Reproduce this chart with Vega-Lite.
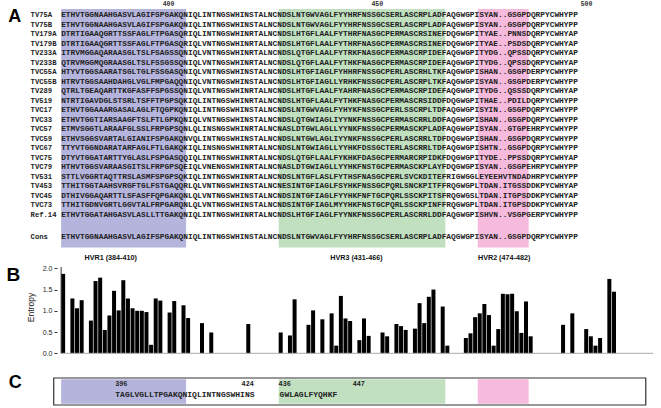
{
  "$schema": "https://vega.github.io/schema/vega-lite/v6.json",
  "width": 661,
  "height": 408,
  "autosize": {"type": "none"},
  "padding": 0,
  "background": "white",
  "config": {"view": {"stroke": null}},
  "datasets": {
    "alignment": [
      {"row": 0, "name": "TV75A", "seq": "ETHVTGGNAAHGASVLAGIFSPGAKQNIQLINTNGSWHINSTALNCNDSLNTGWVAGLFYYHRFNSSGCSERLASCRPLADFAQGWGPISYAN..GSGPDQRPYCWHYPP"},
      {"row": 1, "name": "TV75B", "seq": "ETHVTGGNAAHGASVLAGIFSPGAKQNIQLINTNGSWHINSTALNCNDSLNTGWVAGLFYYHRFNSSGCSERLASCRPLADFAQGWGPISYAN..GSGPDQRPYCWHYPP"},
      {"row": 2, "name": "TV179A", "seq": "DTRTIGAAQGRTTSSFAGLFTPGASQRIQLINTNGSWHINRTALNCNDSLHTGFLAALFYTHRFNASGCPERMASCRSINEFDQGWGPITYAE..PNNSDQRPYCWHYAP"},
      {"row": 3, "name": "TV179B", "seq": "DTRTIGAAQGRTTSSFAGLFTPGASQRIQLVNTNGSWHINRTALNCNDSLHTGFLAALFYTHRFNASGCPERMASCRSINEFDQGWGPITYAE..PSDSDQRPYCWHYAP"},
      {"row": 4, "name": "TV233A", "seq": "ITRVMGGAQARAASGLTSLFSAGSSQNIQLVNTNGSWHINRTALNCNDSLQTGFLAALFYTRKFNASGCPERMASCRPIDEFAQGWGPITYDG..QPSSDQRPYCWHYAP"},
      {"row": 5, "name": "TV233B", "seq": "QTRVMGGMQGRAASGLTSLFSSGSSQNIQLVNTNGSWHINRTALNCNDSLQTGFLAALFYTHKFNASGCPERMASCRPIDEFAQGWGPITYDG..QPSSDQRPYCWHYAP"},
      {"row": 6, "name": "TVC55A", "seq": "HTYVTGGSAARATSGLTGLFSSGASQNIQLVNTNGSWHINSTALNCNDSLHTGFIAGLFYHHRFNSSGCPERLASCRHLTKFAQGWGPISHAN..GSGPDERPYCWHYPP"},
      {"row": 7, "name": "TVC55B", "seq": "HTRVTGGSAAHDAHGLVGLFMPGAQQNIQLVNTNGSWHINSTALNCNDSLHTGFIAGLLYRHKFNSSGCPERLASCRPLTKFAQGWGPISYAN..GSGPDERPYCWHYPP"},
      {"row": 8, "name": "TV289", "seq": "QTRLTGEAQARTTKGFASFFSPGSSQNIQLVNTNGSWHINRTALNCNDSLHTGFLAALFYAHRFNASGCPERMASCRPIDEFAQGWGPITYDG..QSSSDQRPYCWHYAP"},
      {"row": 9, "name": "TV519", "seq": "NTRTIGAVDGLSTSRLTSFFTPGPSQKIQLINTNGSWHINRTALNCNDSLHTGFLAALFYTHKFNASGCPERMASCRSIDDFDQGWGPITHAE..PDILDQRPYCWHYPP"},
      {"row": 10, "name": "TVC17", "seq": "ETHVTGGAAARGASALAGLFTQGPKQNIQLINTNGSWHINSTALNCNDSLNTGWVAGLFYHYKFNSSGCPERLSSCRPLTDFAQGWGPISYIN..GSGPDQRPYCWHYPP"},
      {"row": 11, "name": "TVC33", "seq": "ETHVTGGTIARSAAGFTSLFTLGPKQNIQLVNTNGSWHINSTALNCNDSLQTGWIAGLIYYNKFNSSGCPERMASCRRLDDFAQGWGPISHAN..GSGPDQRPYCWHYPP"},
      {"row": 12, "name": "TVC57", "seq": "ETMVSGGTLARAAFGLSSLFRPGPSQNLQLINSNGSWHINRTALNCNASLDTGWLAGLLYYNKFNSSGCPERMASCKPLADFAQGWGPISYAN..GTGPEHRPYCWHYPP"},
      {"row": 13, "name": "TVC59", "seq": "ETHVSGGSVARTALGIANIFSPGAKQNVQLINTNGSWHINSTALNCNDSLNTGWLAGLIYYNKFNSSGCPERLASCRRLTDFDQGWGPISHAN..GSGPDQRPYCWHYPP"},
      {"row": 14, "name": "TVC67", "seq": "TTYVTGGNDARATARFAGLFTLGAKQKIQLINSNGSWHINRTALNCNDSLNTGWIAGLLYYHKFDSSGCTERLASCRRLTDFAQGWGPISHTN..GSGPDQRPYCWHYPP"},
      {"row": 15, "name": "TVC75", "seq": "DTYVTGGATARTTYGLASLFSPGASQQIQLINTNGSWHINRTALNCNDSLQTGFLAALFYKHKFDASGCPERMARCRPIDKFDQGWGPITYDE..PPSSDQRPYCWHYAP"},
      {"row": 16, "name": "TVC79", "seq": "HTHVTGGSVARAASGITSLFRPGPSQEIQLVNENGSWHINRTALNCNASLDTGWIAGLLYYHKFNSTGCPERMASCKPLAYFDQGWGPISYAN..GSGPEHRPYCWHYPP"},
      {"row": 17, "name": "TV531", "seq": "STTLVGGRTAQTTRSLASMFSPGPSQKIQLINTNGSWHINRTALNCNDSLNTGFLASLFYTHSFNASGCPERLSVCKDITEFRIGWGGLEYEEHVTNDADHRPYCWHYPP"},
      {"row": 18, "name": "TV453", "seq": "TTHITGGTAAHSVRGFTGLFSTGAQQRLQLVNTNGSWHINSTALNCNESINTGFIAGLFSYHKFNSSGCPQRLSNCKPITFFRQGWGPLTDAN.ITGSSDDKPYCWHYAP"},
      {"row": 19, "name": "TVC45", "seq": "DTHIVGGAQARTTLSFASFFQPGAKQNLQLVNTNGSWHINSTALNCNDSINTGFIAGLFYYHKFNFTGCPQRLSSCKPITSFRQGWGSLTDAN.ITGPSDDKPYCWHYAP"},
      {"row": 20, "name": "TVC73", "seq": "TTHITGDNVGRTLGGVTALFRPGARQNLQLVNTNGSWHINSTALNCNDSINTGFIAGLMYYHKFNSTGCPQRLSSCKPINFFRQGWGPLTDAN.ITGPSDDKPYCWHYAP"},
      {"row": 21, "name": "Ref.14", "seq": "ETHVTGGATAHGASVLASLLTTGAKQNIQLINTNGSWHINRTALNCNDSLHTGFIAGLFYYNKFNSSGCPERLASCRRLDDFAQGWGPISHVN..VSGPGERPYCWHYPP"},
      {"row": 23.3, "name": "Cons", "seq": "ETHVTGGNAAHGASVLAGIFSPGAKQNIQLINTNGSWHINSTALNCNDSLNTGWVAGLFYYHRFNSSGCSERLASCRPLADFAQGWGPISYAN..GSGPDQRPYCWHYPP"}
    ],
    "regions": [
      {"region": "HVR1", "first": 0, "last": 27},
      {"region": "HVR3", "first": 47, "last": 83},
      {"region": "HVR2", "first": 90, "last": 101}
    ],
    "ruler": [
      {"label": "400", "col": 23.2},
      {"label": "450", "col": 68.3},
      {"label": "500", "col": 113.5}
    ],
    "entropy": [
      {"col": 0, "entropy": 1.87}, {"col": 2, "entropy": 1.29}, {"col": 3, "entropy": 1.06}, {"col": 4, "entropy": 1.25},
      {"col": 6, "entropy": 0.77}, {"col": 7, "entropy": 1.70}, {"col": 8, "entropy": 1.78}, {"col": 9, "entropy": 0.55},
      {"col": 10, "entropy": 0.89}, {"col": 11, "entropy": 1.47}, {"col": 12, "entropy": 1.01}, {"col": 13, "entropy": 1.72},
      {"col": 14, "entropy": 1.29}, {"col": 15, "entropy": 1.06}, {"col": 16, "entropy": 1.00}, {"col": 17, "entropy": 1.00},
      {"col": 18, "entropy": 0.97}, {"col": 19, "entropy": 0.20}, {"col": 20, "entropy": 1.29}, {"col": 21, "entropy": 1.24},
      {"col": 23, "entropy": 0.96}, {"col": 24, "entropy": 1.23}, {"col": 26, "entropy": 1.13}, {"col": 27, "entropy": 0.83},
      {"col": 30, "entropy": 0.71}, {"col": 32, "entropy": 0.49}, {"col": 40, "entropy": 0.69}, {"col": 47, "entropy": 0.49},
      {"col": 49, "entropy": 0.42}, {"col": 50, "entropy": 1.27}, {"col": 53, "entropy": 0.67}, {"col": 54, "entropy": 1.01},
      {"col": 56, "entropy": 0.80}, {"col": 58, "entropy": 0.94}, {"col": 59, "entropy": 0.18}, {"col": 60, "entropy": 1.35},
      {"col": 61, "entropy": 0.82}, {"col": 62, "entropy": 0.76}, {"col": 64, "entropy": 0.31}, {"col": 65, "entropy": 0.82},
      {"col": 66, "entropy": 0.41}, {"col": 69, "entropy": 0.49}, {"col": 70, "entropy": 0.40}, {"col": 72, "entropy": 0.69},
      {"col": 73, "entropy": 0.64}, {"col": 74, "entropy": 0.55}, {"col": 76, "entropy": 0.58}, {"col": 77, "entropy": 1.18},
      {"col": 78, "entropy": 0.71}, {"col": 79, "entropy": 1.33}, {"col": 80, "entropy": 1.50}, {"col": 82, "entropy": 1.10},
      {"col": 83, "entropy": 0.18}, {"col": 87, "entropy": 0.36}, {"col": 88, "entropy": 0.47}, {"col": 89, "entropy": 0.85},
      {"col": 90, "entropy": 0.94}, {"col": 91, "entropy": 1.16}, {"col": 92, "entropy": 0.90}, {"col": 93, "entropy": 0.18},
      {"col": 94, "entropy": 0.57}, {"col": 95, "entropy": 1.40}, {"col": 96, "entropy": 1.39}, {"col": 97, "entropy": 1.40},
      {"col": 98, "entropy": 0.99}, {"col": 99, "entropy": 0.48}, {"col": 100, "entropy": 1.22}, {"col": 101, "entropy": 0.40},
      {"col": 108, "entropy": 0.67}, {"col": 110, "entropy": 0.94}, {"col": 113, "entropy": 0.57}, {"col": 114, "entropy": 0.40},
      {"col": 115, "entropy": 0.18}, {"col": 116, "entropy": 0.36}, {"col": 118, "entropy": 1.75}, {"col": 119, "entropy": 1.45}
    ],
    "hvrLabels": [
      {"label": "HVR1 (384-410)", "at": 10.7},
      {"label": "HVR3 (431-466)", "at": 63.8},
      {"label": "HVR2 (474-482)", "at": 95.7}
    ],
    "epitopes": [
      {"epitope": "E1", "seq": "TAGLVGLLTPGAKQNIQLINTNGSWHINS", "start": 11.7},
      {"epitope": "E2", "seq": "GWLAGLFYQHKF", "start": 47.2}
    ],
    "epitopeEnds": [
      {"label": "396", "at": 13.0},
      {"label": "424", "at": 40.3},
      {"label": "436", "at": 48.3},
      {"label": "447", "at": 64.3}
    ]
  },
  "layer": [
    {
      "layer": [
        {
          "data": {"name": "regions"},
          "mark": {"type": "rect"},
          "encoding": {
            "x": {"field": "first", "type": "quantitative", "scale": {"domain": [-12.1277, 128.5106], "nice": false, "zero": false}, "axis": null},
            "x2": {"field": "last"},
            "y": {"datum": -0.63, "type": "quantitative", "scale": {"domain": [-1.575, 41.265], "reverse": true, "nice": false, "zero": false}, "axis": null},
            "y2": {"datum": 24.4},
            "color": {"field": "region", "type": "nominal", "scale": {"domain": ["HVR1", "HVR3", "HVR2"], "range": ["#b4b4dc", "#c0e0c0", "#f6badd"]}, "legend": null}
          }
        },
        {
          "data": {"name": "ruler"},
          "mark": {"type": "text", "font": "Liberation Mono", "fontSize": 6.5, "fontWeight": "bold", "align": "center", "baseline": "middle", "color": "#333"},
          "encoding": {
            "x": {"field": "col", "type": "quantitative", "scale": {"domain": [-12.1277, 128.5106], "nice": false, "zero": false}, "axis": null},
            "y": {"datum": -1.15, "type": "quantitative", "scale": {"domain": [-1.575, 41.265], "reverse": true, "nice": false, "zero": false}, "axis": null},
            "text": {"field": "label"}
          }
        },
        {
          "data": {"name": "alignment"},
          "mark": {"type": "text", "font": "Liberation Mono", "fontSize": 7.83, "fontWeight": "bold", "align": "left", "baseline": "middle", "color": "#222"},
          "encoding": {
            "x": {"datum": 0, "type": "quantitative", "scale": {"domain": [-12.1277, 128.5106], "nice": false, "zero": false}, "axis": null},
            "y": {"field": "row", "type": "quantitative", "scale": {"domain": [-1.575, 41.265], "reverse": true, "nice": false, "zero": false}, "axis": null},
            "text": {"field": "seq"}
          }
        },
        {
          "data": {"name": "alignment"},
          "mark": {"type": "text", "font": "Liberation Mono", "fontSize": 7.2, "fontWeight": "bold", "align": "left", "baseline": "middle", "color": "#222"},
          "encoding": {
            "x": {"datum": -6.6, "type": "quantitative", "scale": {"domain": [-12.1277, 128.5106], "nice": false, "zero": false}, "axis": null},
            "y": {"field": "row", "type": "quantitative", "scale": {"domain": [-1.575, 41.265], "reverse": true, "nice": false, "zero": false}, "axis": null},
            "text": {"field": "name"}
          }
        },
        {
          "data": {"values": [{"panel": "A"}]},
          "mark": {"type": "text", "font": "Liberation Sans", "fontSize": 18, "fontWeight": "bold", "align": "left", "baseline": "middle", "color": "#000"},
          "encoding": {
            "x": {"datum": -11.45, "type": "quantitative", "scale": {"domain": [-12.1277, 128.5106], "nice": false, "zero": false}, "axis": null},
            "y": {"datum": 0.2, "type": "quantitative", "scale": {"domain": [-1.575, 41.265], "reverse": true, "nice": false, "zero": false}, "axis": null},
            "text": {"field": "panel"}
          }
        }
      ]
    },
    {
      "layer": [
        {
          "data": {"name": "entropy"},
          "mark": {"type": "bar", "width": 4, "xOffset": 2, "color": "#000"},
          "encoding": {
            "x": {"field": "col", "type": "quantitative", "scale": {"domain": [-12.1277, 128.5106], "nice": false, "zero": false}, "axis": null},
            "y": {"field": "entropy", "type": "quantitative", "scale": {"domain": [-1.287, 8.313], "nice": false, "zero": false},
              "axis": {"values": [0, 0.5, 1, 1.5, 2], "format": ".1f", "offset": -57, "domain": false, "grid": false, "tickSize": 3, "tickColor": "#333",
                "labelFont": "Liberation Sans", "labelFontSize": 7, "labelColor": "#222", "labelPadding": 2,
                "title": "Entropy", "titleFont": "Liberation Sans", "titleFontSize": 8.5, "titleFontWeight": "normal", "titleColor": "#222", "titleX": -21.5, "titleY": 307}},
            "y2": {"datum": 0}
          }
        },
        {
          "data": {"values": [{}]},
          "mark": {"type": "rule", "color": "#aaa", "strokeWidth": 1},
          "encoding": {
            "x": {"datum": 0, "type": "quantitative", "scale": {"domain": [-12.1277, 128.5106], "nice": false, "zero": false}, "axis": null},
            "x2": {"datum": 127.9},
            "y": {"datum": 0, "type": "quantitative", "scale": {"domain": [-1.287, 8.313], "nice": false, "zero": false}}
          }
        },
        {
          "data": {"values": [{}]},
          "mark": {"type": "rule", "color": "#333", "strokeWidth": 1},
          "encoding": {
            "x": {"datum": 0, "type": "quantitative", "scale": {"domain": [-12.1277, 128.5106], "nice": false, "zero": false}, "axis": null},
            "y": {"datum": 0, "type": "quantitative", "scale": {"domain": [-1.287, 8.313], "nice": false, "zero": false}},
            "y2": {"datum": 2.03}
          }
        },
        {
          "data": {"name": "hvrLabels"},
          "mark": {"type": "text", "font": "Liberation Sans", "fontSize": 7.2, "fontWeight": "bold", "align": "center", "baseline": "middle", "color": "#111"},
          "encoding": {
            "x": {"field": "at", "type": "quantitative", "scale": {"domain": [-12.1277, 128.5106], "nice": false, "zero": false}, "axis": null},
            "y": {"datum": 2.235, "type": "quantitative", "scale": {"domain": [-1.287, 8.313], "nice": false, "zero": false}},
            "text": {"field": "label"}
          }
        },
        {
          "data": {"values": [{"panel": "B"}]},
          "mark": {"type": "text", "font": "Liberation Sans", "fontSize": 19, "fontWeight": "bold", "align": "left", "baseline": "middle", "color": "#000"},
          "encoding": {
            "x": {"datum": -11.8, "type": "quantitative", "scale": {"domain": [-12.1277, 128.5106], "nice": false, "zero": false}, "axis": null},
            "y": {"datum": 1.85, "type": "quantitative", "scale": {"domain": [-1.287, 8.313], "nice": false, "zero": false}},
            "text": {"field": "panel"}
          }
        }
      ]
    },
    {
      "layer": [
        {
          "data": {"values": [{}]},
          "mark": {"type": "rect", "fill": "white", "stroke": "#333", "strokeWidth": 1.2},
          "encoding": {
            "x": {"datum": -1.6, "type": "quantitative", "scale": {"domain": [-12.1277, 128.5106], "nice": false, "zero": false}, "axis": null},
            "x2": {"datum": 126.3},
            "y": {"datum": 0, "type": "quantitative", "scale": {"domain": [-14, 1.111], "reverse": true, "nice": false, "zero": false}, "axis": null},
            "y2": {"datum": 1}
          }
        },
        {
          "data": {"name": "regions"},
          "mark": {"type": "rect"},
          "encoding": {
            "x": {"field": "first", "type": "quantitative", "scale": {"domain": [-12.1277, 128.5106], "nice": false, "zero": false}, "axis": null},
            "x2": {"field": "last"},
            "y": {"datum": 0.05, "type": "quantitative", "scale": {"domain": [-14, 1.111], "reverse": true, "nice": false, "zero": false}, "axis": null},
            "y2": {"datum": 0.95},
            "color": {"field": "region", "type": "nominal", "scale": {"domain": ["HVR1", "HVR3", "HVR2"], "range": ["#b4b4dc", "#c0e0c0", "#f6badd"]}, "legend": null}
          }
        },
        {
          "data": {"name": "epitopes"},
          "mark": {"type": "text", "font": "Liberation Mono", "fontSize": 8, "fontWeight": "bold", "align": "left", "baseline": "middle", "color": "#222"},
          "encoding": {
            "x": {"field": "start", "type": "quantitative", "scale": {"domain": [-12.1277, 128.5106], "nice": false, "zero": false}, "axis": null},
            "y": {"datum": 0.63, "type": "quantitative", "scale": {"domain": [-14, 1.111], "reverse": true, "nice": false, "zero": false}, "axis": null},
            "text": {"field": "seq"}
          }
        },
        {
          "data": {"name": "epitopeEnds"},
          "mark": {"type": "text", "font": "Liberation Mono", "fontSize": 6.8, "fontWeight": "bold", "align": "center", "baseline": "middle", "color": "#222"},
          "encoding": {
            "x": {"field": "at", "type": "quantitative", "scale": {"domain": [-12.1277, 128.5106], "nice": false, "zero": false}, "axis": null},
            "y": {"datum": 0.22, "type": "quantitative", "scale": {"domain": [-14, 1.111], "reverse": true, "nice": false, "zero": false}, "axis": null},
            "text": {"field": "label"}
          }
        },
        {
          "data": {"values": [{"panel": "C"}]},
          "mark": {"type": "text", "font": "Liberation Sans", "fontSize": 18, "fontWeight": "bold", "align": "left", "baseline": "middle", "color": "#000"},
          "encoding": {
            "x": {"datum": -11.3, "type": "quantitative", "scale": {"domain": [-12.1277, 128.5106], "nice": false, "zero": false}, "axis": null},
            "y": {"datum": 0.2, "type": "quantitative", "scale": {"domain": [-14, 1.111], "reverse": true, "nice": false, "zero": false}, "axis": null},
            "text": {"field": "panel"}
          }
        }
      ]
    }
  ],
  "resolve": {"scale": {"y": "independent"}}
}
